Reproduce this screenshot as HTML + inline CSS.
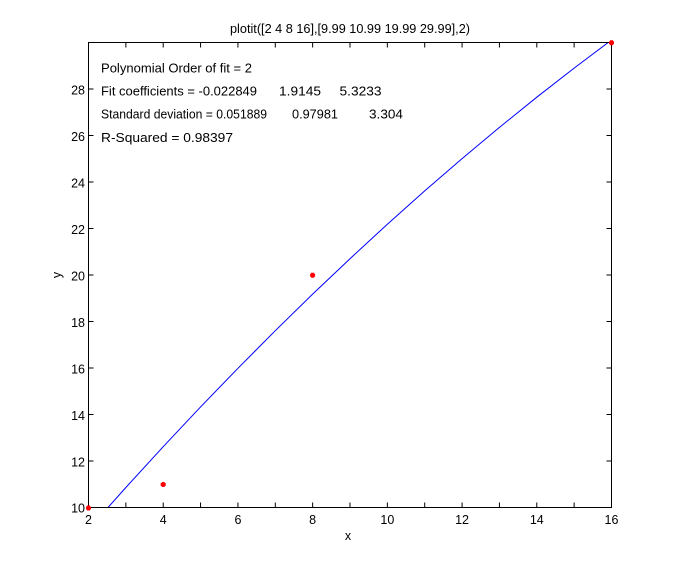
<!DOCTYPE html>
<html><head><meta charset="utf-8"><style>
html,body{margin:0;padding:0;background:#fff;}
svg{display:block;}
text{font-family:"Liberation Sans",Arial,sans-serif;fill:#000;}
</style></head><body>
<svg width="675" height="571" viewBox="0 0 675 571" xmlns="http://www.w3.org/2000/svg">
<rect width="675" height="571" fill="#fff"/>
<defs><clipPath id="c"><rect x="88.5" y="42.5" width="523" height="465"/></clipPath></defs>
<!-- title -->
<text x="230" y="33" font-size="13" textLength="240" lengthAdjust="spacingAndGlyphs">plotit([2 4 8 16],[9.99 10.99 19.99 29.99],2)</text>
<!-- curve -->
<polyline clip-path="url(#c)" fill="none" stroke="#0000ff" stroke-width="1" points="88.5,529.3 125.86,487.5 163.21,446.7 200.57,406.95 237.93,368.3 275.29,330.7 312.64,294.1 350,258.7 387.36,224.2 424.71,190.9 462.07,158.6 499.43,127.4 536.79,97.2 574.14,68.1 611.5,40"/>
<!-- axes box -->
<rect x="88.5" y="42.5" width="523" height="465" fill="none" stroke="#000" stroke-width="1"/>
<!-- ticks -->
<g stroke="#000" stroke-width="1">
<path d="M125.86,507.5v-5M163.21,507.5v-5M200.57,507.5v-5M237.93,507.5v-5M275.29,507.5v-5M312.64,507.5v-5M350,507.5v-5M387.36,507.5v-5M424.71,507.5v-5M462.07,507.5v-5M499.43,507.5v-5M536.79,507.5v-5M574.14,507.5v-5"/>
<path d="M125.86,42.5v5M163.21,42.5v5M200.57,42.5v5M237.93,42.5v5M275.29,42.5v5M312.64,42.5v5M350,42.5v5M387.36,42.5v5M424.71,42.5v5M462.07,42.5v5M499.43,42.5v5M536.79,42.5v5M574.14,42.5v5"/>
<path d="M88.5,461h5M88.5,414.5h5M88.5,368h5M88.5,321.5h5M88.5,275h5M88.5,228.5h5M88.5,182h5M88.5,135.5h5M88.5,89h5"/>
<path d="M611.5,461h-5M611.5,414.5h-5M611.5,368h-5M611.5,321.5h-5M611.5,275h-5M611.5,228.5h-5M611.5,182h-5M611.5,135.5h-5M611.5,89h-5"/>
</g>
<!-- y tick labels -->
<g font-size="12.5" text-anchor="end">
<text x="85" y="512.5">10</text>
<text x="85" y="466.5">12</text>
<text x="85" y="420">14</text>
<text x="85" y="373.5">16</text>
<text x="85" y="327">18</text>
<text x="85" y="280.5">20</text>
<text x="85" y="234">22</text>
<text x="85" y="187.5">24</text>
<text x="85" y="141">26</text>
<text x="85" y="94.5">28</text>
</g>
<!-- x tick labels -->
<g font-size="12.5" text-anchor="middle">
<text x="88.5" y="524">2</text>
<text x="163.21" y="524">4</text>
<text x="237.93" y="524">6</text>
<text x="312.64" y="524">8</text>
<text x="387.36" y="524">10</text>
<text x="462.07" y="524">12</text>
<text x="536.79" y="524">14</text>
<text x="611.5" y="524">16</text>
</g>
<text x="348" y="540" font-size="12.5" text-anchor="middle">x</text>
<text transform="translate(61,275) rotate(-90)" font-size="12.5" text-anchor="middle">y</text>
<!-- annotation text -->
<g font-size="13">
<text x="101" y="72.7" textLength="151" lengthAdjust="spacingAndGlyphs">Polynomial Order of fit = 2</text>
<text x="101" y="95.5" textLength="156" lengthAdjust="spacingAndGlyphs">Fit coefficients = -0.022849</text>
<text x="279" y="95.5" textLength="42" lengthAdjust="spacingAndGlyphs">1.9145</text>
<text x="339.5" y="95.5" textLength="42" lengthAdjust="spacingAndGlyphs">5.3233</text>
<text x="101" y="118.5" textLength="166" lengthAdjust="spacingAndGlyphs">Standard deviation = 0.051889</text>
<text x="292" y="118.5" textLength="46" lengthAdjust="spacingAndGlyphs">0.97981</text>
<text x="369" y="118.5" textLength="34" lengthAdjust="spacingAndGlyphs">3.304</text>
<text x="101" y="142" textLength="132" lengthAdjust="spacingAndGlyphs">R-Squared = 0.98397</text>
</g>
<!-- markers -->
<g fill="#ff0000">
<path d="M86,506.5h5v3h-5z M87,505.5h3v5h-3z"/>
<path d="M160.7,483h5v3h-5z M161.7,482h3v5h-3z"/>
<path d="M310.1,273.7h5v3h-5z M311.1,272.7h3v5h-3z"/>
<path d="M609,41.2h5v3h-5z M610,40.2h3v5h-3z"/>
</g>
</svg>
</body></html>
